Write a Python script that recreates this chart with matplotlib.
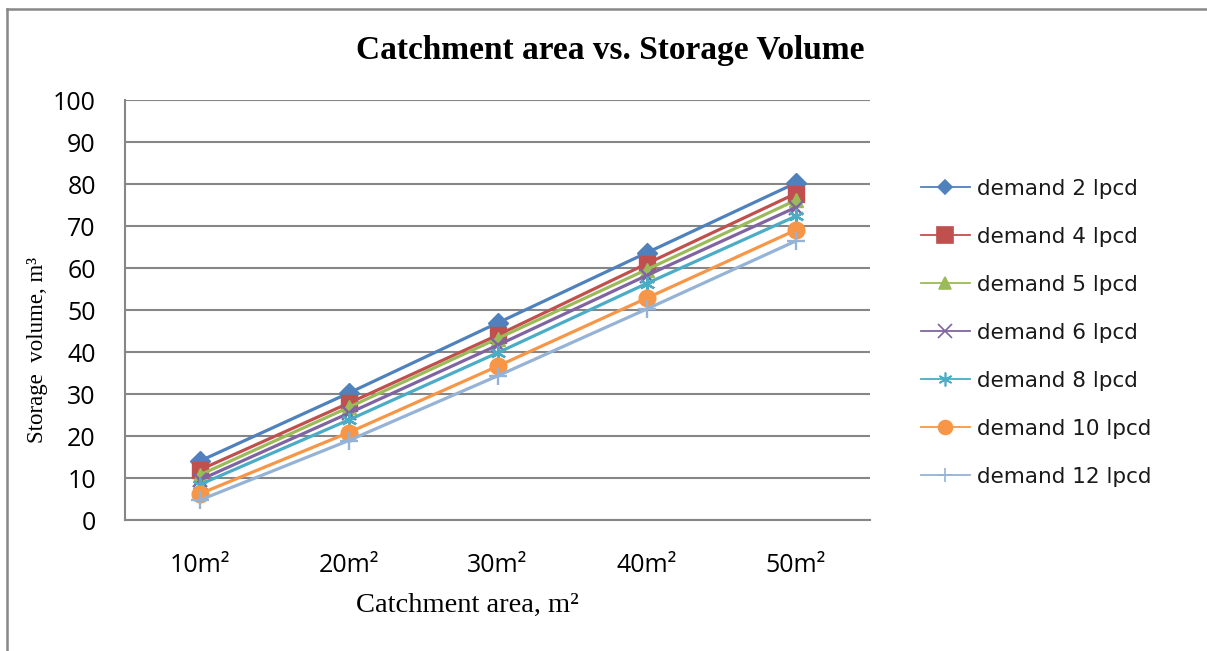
import matplotlib
matplotlib.use("Agg")
import matplotlib.pyplot as plt
from matplotlib.lines import Line2D

categories = ["10m²", "20m²", "30m²", "40m²", "50m²"]
series_names = ["demand 2 lpcd", "demand 4 lpcd", "demand 5 lpcd", "demand 6 lpcd",
                "demand 8 lpcd", "demand 10 lpcd", "demand 12 lpcd"]
demand_2 = [14.0, 30.2, 46.9, 63.6, 80.2]
demand_4 = [11.9, 27.8, 44.0, 61.0, 77.7]
demand_5 = [10.7, 26.8, 43.2, 59.6, 76.1]
demand_6 = [9.5, 25.4, 41.6, 58.2, 74.4]
demand_8 = [8.4, 23.8, 39.8, 56.3, 72.3]
demand_10 = [6.2, 20.8, 36.6, 52.8, 69.0]
demand_12 = [4.7, 18.9, 34.3, 50.2, 66.4]
values = [demand_2, demand_4, demand_5, demand_6, demand_8, demand_10, demand_12]
y_ticks = list(range(0, 101, 10))

colors = ["#4F81BD", "#C0504D", "#9BBB59", "#8064A2", "#4BACC6", "#F79646", "#95B3D7"]
markers = ["D", "s", "^", "x", (6, 2, 0), "o", "+"]
msizes = [10, 11, 10, 10, 11, 12, 13]
leg_msizes = [7, 11, 8, 10, 10, 10, 10]

fig = plt.figure(figsize=(12.07, 6.51), dpi=100)
ax = fig.add_axes([125/1207, 1-520/651, 745/1207, 420/651])

x = [i + 0.5 for i in range(len(categories))]
for vals, c, m, ms in zip(values, colors, markers, msizes):
    ax.plot(x, vals, color=c, lw=2.3, marker=m, markersize=ms,
            markeredgewidth=1.7 if m in ("x", "+") or isinstance(m, tuple) else 1,
            markeredgecolor=c, markerfacecolor=c, clip_on=False, zorder=3)

ax.set_xlim(0, 5)
ax.set_ylim(0, 100)
ax.set_yticks(y_ticks)
ax.set_xticks(x)
ax.set_xticklabels(categories)
for sp in ["top", "right"]:
    ax.spines[sp].set_visible(False)
for sp in ["left", "bottom"]:
    ax.spines[sp].set_color("#868686")
    ax.spines[sp].set_linewidth(1.5)
ax.grid(axis="y", color="#868686", lw=1.5, zorder=0)
ax.set_axisbelow(True)
ax.tick_params(axis="both", length=0, labelsize=18)
ax.tick_params(axis="y", pad=21)
ax.tick_params(axis="x", pad=24)
for lab in ax.get_xticklabels() + ax.get_yticklabels():
    lab.set_fontfamily("Open Sans")

fig.text(610/1207, 1-50/651, "Catchment area vs. Storage Volume", ha="center", va="center",
         fontsize=24, fontweight="bold", family="Liberation Serif")
fig.text(467/1207, 1-605/651, "Catchment area, m²", ha="center", va="center",
         fontsize=20.5, family="Liberation Serif")
fig.text(38/1207, 1-350/651, "Storage  volume, m³", ha="center", va="center",
         rotation=90, fontsize=16.5, family="Liberation Serif")

handles = [Line2D([0], [0], color=c, lw=1.3, marker=m, markersize=ms, markeredgecolor=c,
                  markerfacecolor=c, markeredgewidth=1.2)
           for c, m, ms in zip(colors, markers, leg_msizes)]
leg = fig.legend(handles, series_names, loc="upper left", bbox_to_anchor=(912/1207, 1-170/651),
                 frameon=False, fontsize=15.5, handlelength=2.3, handletextpad=0.3,
                 labelspacing=1.3, borderaxespad=0)
for t in leg.get_texts():
    t.set_color("#1a1a1a")

# outer border
fig.add_artist(Line2D([7/1207, 7/1207], [0, 1-9/651], color="#888888", lw=1.8,
                      transform=fig.transFigure))
fig.add_artist(Line2D([7/1207, 1], [1-9/651, 1-9/651], color="#888888", lw=1.8,
                      transform=fig.transFigure))

fig.savefig("out.png", dpi=100)
